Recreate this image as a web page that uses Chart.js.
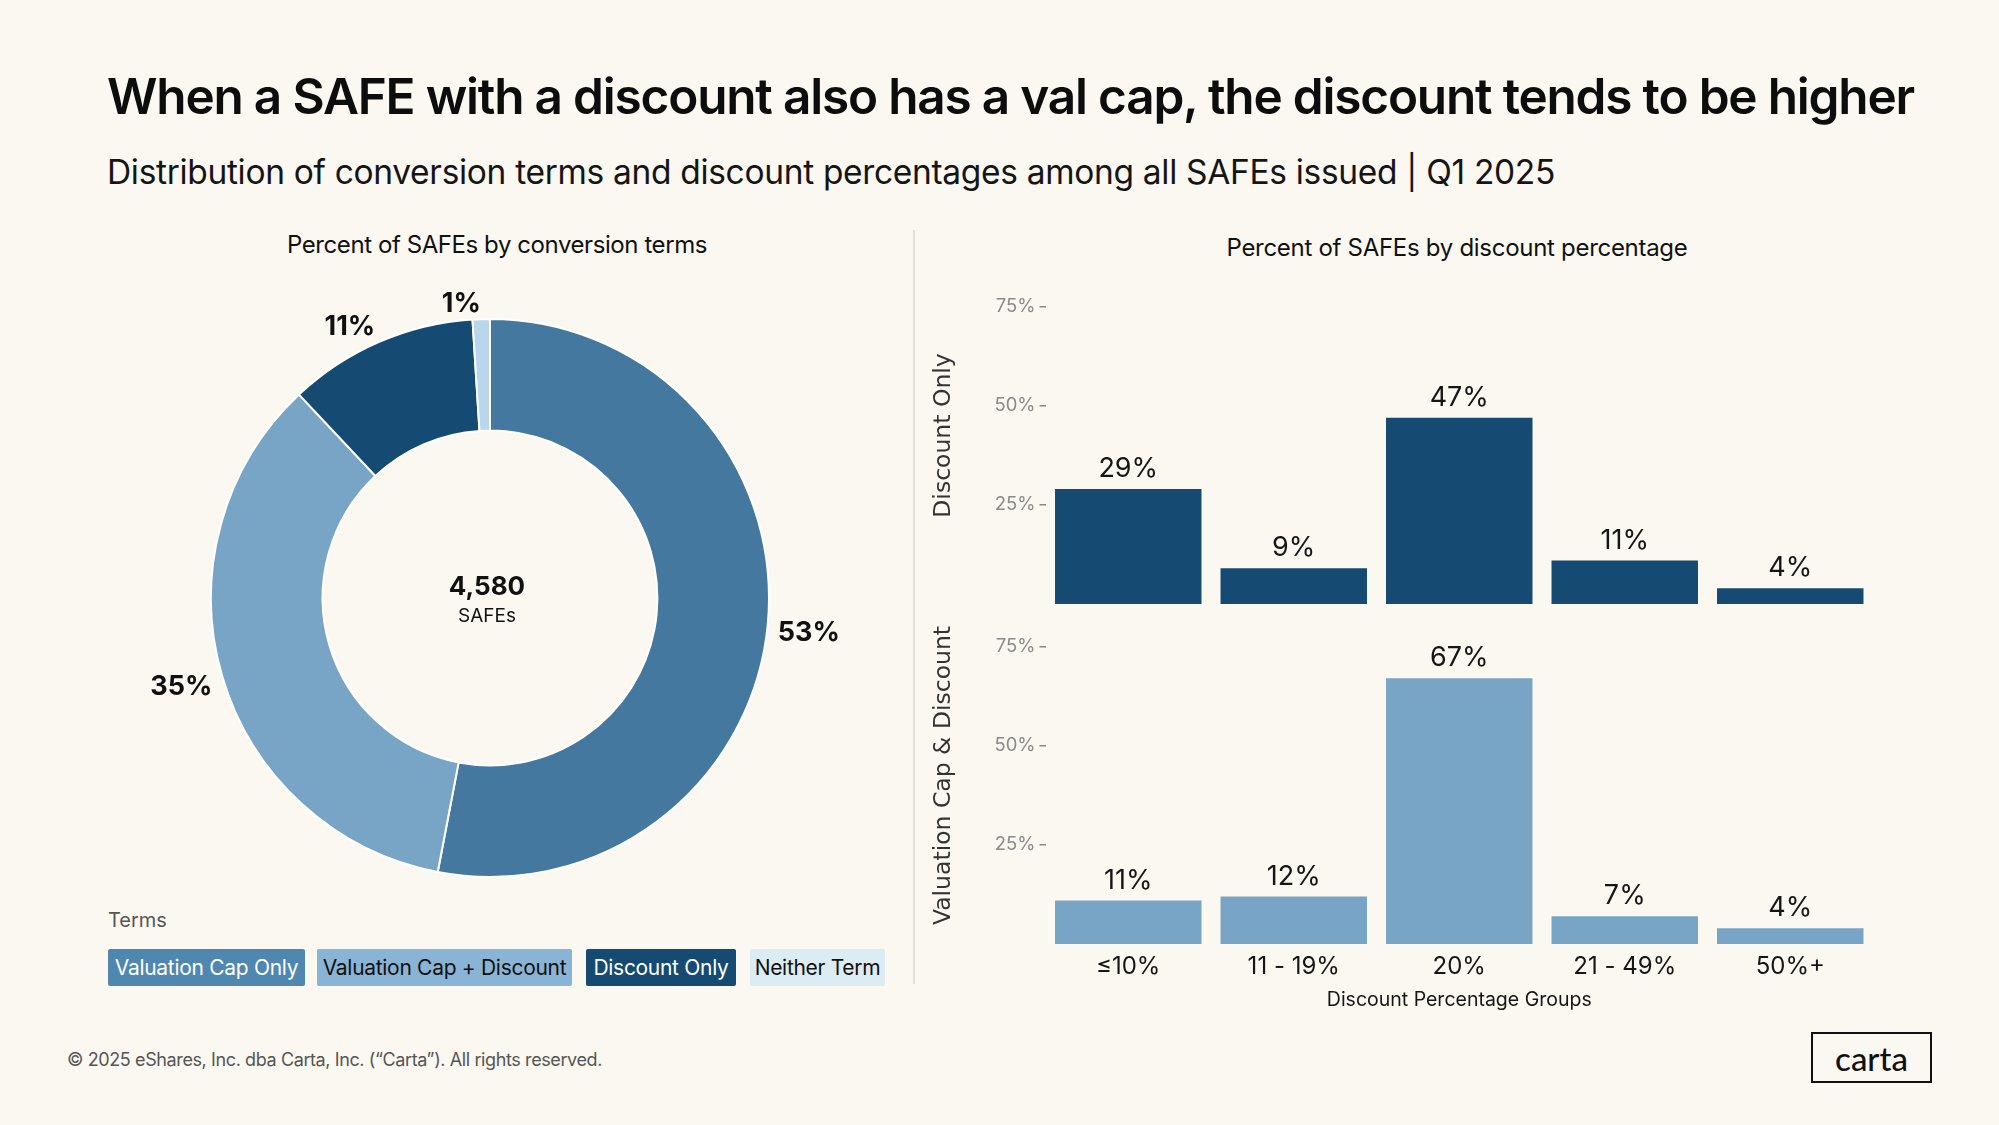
<!DOCTYPE html>
<html><head><meta charset="utf-8">
<script src="https://cdn.jsdelivr.net/npm/chart.js@4.4.1/dist/chart.umd.min.js"></script>
<style>
html,body{margin:0;padding:0;background:#FBF8F2;}
body{width:1999px;height:1125px;position:relative;overflow:hidden;font-family:Inter,"Noto Sans",sans-serif;color:#111;}
.t{position:absolute;white-space:nowrap;line-height:1;}
#title{left:107px;top:72px;font-size:49.5px;font-weight:600;color:#0d0d0d;}
#subtitle{left:107px;top:156px;font-size:33.5px;font-weight:400;color:#151515;}
#ltitle{top:233px;font-size:24px;color:#111;}
#rtitle{top:236px;font-size:24px;color:#111;}
#terms{left:108px;top:910px;font-size:20px;color:#555;}
#footer{left:67px;top:1051px;font-size:18px;color:#555;}
#divider{position:absolute;left:913px;top:230px;width:1.5px;height:754px;background:#E4E0D9;}
.lg{position:absolute;top:949px;height:37px;border-radius:2px;display:flex;align-items:center;justify-content:center;font-size:21px;white-space:nowrap;}
#logo{position:absolute;left:1811px;top:1032px;width:117px;height:47px;border:2.7px solid #111;display:flex;align-items:center;justify-content:center;font-family:Lato,Inter,sans-serif;font-size:33px;font-weight:500;color:#111;}
canvas{position:absolute;}
</style>
</head>
<body>
<div id="title" class="t">When a SAFE with a discount also has a val cap, the discount tends to be higher</div>
<div id="subtitle" class="t">Distribution of conversion terms and discount percentages among all SAFEs issued | Q1 2025</div>
<div id="ltitle" class="t">Percent of SAFEs by conversion terms</div>
<div id="rtitle" class="t">Percent of SAFEs by discount percentage</div>
<div id="divider"></div>
<div id="terms" class="t">Terms</div>
<div id="legend"></div>
<div id="footer" class="t">© 2025 eShares, Inc. dba Carta, Inc. (“Carta”). All rights reserved.</div>
<div id="logo">carta</div>
<canvas id="donut" width="800" height="800" style="left:90px;top:198px;width:800px;height:800px;"></canvas>
<canvas id="barTop" width="965" height="354" style="left:928px;top:250px;width:965px;height:354px;"></canvas>
<canvas id="barBot" width="965" height="426" style="left:928px;top:590px;width:965px;height:426px;"></canvas>
<script>
// ---- Data ----
const termLabels = ["Valuation Cap Only", "Valuation Cap + Discount", "Discount Only", "Neither Term"];
const termShares = [53, 35, 11, 1];
const totalSafes = "4,580";
const discountGroups = ["≤10%", "11 - 19%", "20%", "21 - 49%", "50%+"];
const discountOnlyPct = [29, 9, 47, 11, 4];
const capAndDiscountPct = [11, 12, 67, 7, 4];
const yTickValues = [25, 50, 75];

// ---- Styles ----
const donutColors = ["#44789E", "#78A5C6", "#154A72", "#B9D6EC"];
const legendColors = ["#4F87B0", "#8AB4D5", "#154A72", "#DDEBF3"];
const legendText = ["#ffffff", "#111111", "#ffffff", "#111111"];
const legendBoxes = [[108, 197], [317, 255], [586, 150], [750, 135]];

function fit(id, target, centerX) {
  const el = document.getElementById(id);
  const w = el.getBoundingClientRect().width;
  const n = el.textContent.length;
  el.style.letterSpacing = ((target - w) / n) + "px";
  if (centerX !== undefined) {
    const w2 = el.getBoundingClientRect().width;
    el.style.left = (centerX - w2 / 2) + "px";
  }
}
fit("title", 1807);
fit("subtitle", 1448);
fit("ltitle", 420, 497);
fit("rtitle", 461, 1457);
fit("footer", 535);

const lg = document.getElementById("legend");
termLabels.forEach((t, i) => {
  const d = document.createElement("div");
  d.className = "lg";
  d.textContent = t;
  d.style.left = legendBoxes[i][0] + "px";
  d.style.width = legendBoxes[i][1] + "px";
  d.style.background = legendColors[i];
  d.style.color = legendText[i];
  d.style.letterSpacing = "-0.3px";
  lg.appendChild(d);
});

// ---- Donut ----
const donutLabels = {
  id: "donutLabels",
  afterDatasetsDraw(chart) {
    const ctx = chart.ctx;
    const meta = chart.getDatasetMeta(0);
    ctx.save();
    ctx.font = "700 27px Inter";
    ctx.fillStyle = "#111";
    meta.data.forEach((arc, i) => {
      const mid = (arc.startAngle + arc.endAngle) / 2;
      const r = arc.outerRadius + 10;
      const c = Math.cos(mid), s = Math.sin(mid);
      const x = arc.x + r * c, y = arc.y + r * s + 8;
      ctx.textAlign = Math.abs(c) < 0.005 ? "center" : (c > 0 ? "left" : "right");
      ctx.textBaseline = s < -0.5 ? "bottom" : (s > 0.5 ? "top" : "middle");
      ctx.fillText(termShares[i] + "%", x, y);
    });
    const a = meta.data[0];
    ctx.textAlign = "center";
    ctx.textBaseline = "middle";
    ctx.font = "700 26px Inter";
    ctx.fillText(totalSafes, a.x - 3, a.y - 11);
    ctx.font = "400 19px Inter";
    ctx.fillText("SAFEs", a.x - 3, a.y + 18);
    ctx.restore();
  }
};
new Chart(document.getElementById("donut"), {
  type: "doughnut",
  data: { labels: termLabels, datasets: [{ data: termShares, backgroundColor: donutColors, borderColor: "#ffffff", borderWidth: 2 }] },
  options: {
    responsive: false, animation: false, devicePixelRatio: 1,
    cutout: "60%",
    layout: { padding: 120 },
    plugins: { legend: { display: false }, tooltip: { enabled: false } }
  },
  plugins: [donutLabels]
});

// ---- Bars ----
const barLabels = {
  id: "barLabels",
  afterDatasetsDraw(chart) {
    const ctx = chart.ctx;
    const meta = chart.getDatasetMeta(0);
    ctx.save();
    ctx.font = "400 27px Inter";
    ctx.fillStyle = "#161616";
    ctx.textAlign = "center";
    ctx.textBaseline = "middle";
    meta.data.forEach((el, i) => {
      ctx.fillText(chart.data.datasets[0].data[i] + "%", el.x, el.y - 20);
    });
    ctx.restore();
  }
};
function barConfig(values, color, yTitle, showX) {
  return {
    type: "bar",
    data: { labels: discountGroups, datasets: [{ data: values, backgroundColor: color, borderWidth: 0, barPercentage: 0.885, categoryPercentage: 1 }] },
    options: {
      responsive: false, animation: false, devicePixelRatio: 1,
      layout: { padding: { top: 17, right: 20, left: 0, bottom: 0 } },
      plugins: { legend: { display: false }, tooltip: { enabled: false } },
      scales: {
        x: {
          display: showX,
          grid: { display: false, drawTicks: false },
          border: { display: false },
          ticks: { padding: 8, color: "#161616", font: { family: "Inter", size: 24 } },
          title: { display: showX, text: "Discount Percentage Groups", color: "#161616", font: { family: "Inter", size: 19.5 }, padding: { top: 4, bottom: 4 } },
          afterFit: s => { s.height = showX ? 72 : 0; }
        },
        y: {
          min: 0, max: 85,
          ticks: { stepSize: 25, includeBounds: false, padding: 4, color: "#8a8a8a", font: { family: "Inter", size: 18.5 }, callback: v => v + "%" },
          afterBuildTicks: s => { s.ticks = yTickValues.map(v => ({ value: v })); },
          grid: { drawOnChartArea: false, drawTicks: true, tickLength: 6, color: "#8a8a8a", lineWidth: 1.5 },
          border: { display: false },
          title: { display: true, text: yTitle, color: "#333", font: { family: "DejaVu Sans", size: 23.5 }, padding: { top: 2, bottom: 2 } },
          afterFit: s => { s.width = 117.5; s.paddingTop = 0; s.paddingBottom = 0; }
        }
      }
    },
    plugins: [barLabels]
  };
}
new Chart(document.getElementById("barTop"), barConfig(discountOnlyPct, "#154A72", "Discount Only", false));
new Chart(document.getElementById("barBot"), barConfig(capAndDiscountPct, "#78A5C6", "Valuation Cap & Discount", true));
</script>
</body></html>
